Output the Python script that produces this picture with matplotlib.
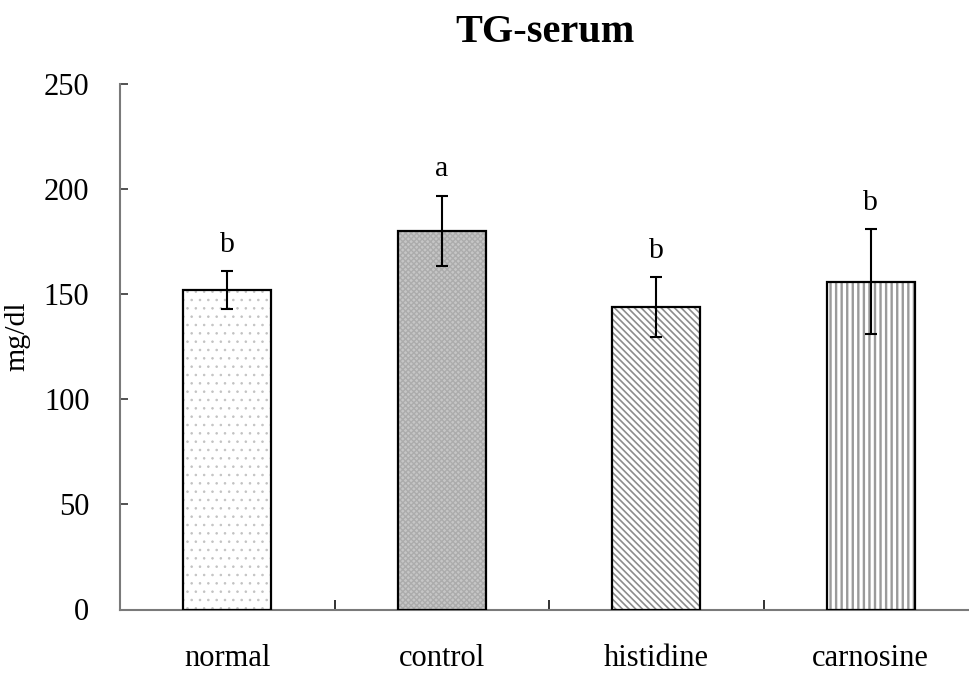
import matplotlib
matplotlib.use("Agg")
import matplotlib.pyplot as plt
import numpy as np

# TG-serum values per diet group
groups = ["normal", "control", "histidine", "carnosine"]
means = [151.8, 180.0, 143.9, 156.0]
errors = [9.0, 16.8, 14.3, 25.0]
letters = ["b", "a", "b", "b"]

# bar fill styles: (face, hatch, hatch colour, hatch width)
fills = [
    ("white", "..", "#c2c2c2", 0.6),
    ("#c6c6c6", "xxxxxx", "#acacac", 1.0),
    ("white", "\\" * 5, "#8c8c8c", 1.2),
    ("white", "|||", "#9a9a9a", 1.7),
]

plt.rcParams["font.family"] = ["Liberation Serif", "DejaVu Serif"]

fig = plt.figure(figsize=(9.69, 6.73), dpi=100)
ax = fig.add_axes([120 / 969, 63.5 / 673, 858 / 969, 525.5 / 673])

x = np.arange(len(groups))
width = 0.41
for xi, m, (fc, h, hc, hw) in zip(x, means, fills):
    plt.rcParams["hatch.linewidth"] = hw
    ax.bar(xi, m, width, color=fc, edgecolor=hc, linewidth=0, hatch=h, zorder=2)
ax.bar(x, means, width, facecolor="none", edgecolor="black", linewidth=1.6, zorder=3)

ax.errorbar(x, means, yerr=errors, fmt="none", ecolor="black", elinewidth=1.5,
            capsize=4, capthick=1.5, zorder=4)

for xi, m, e, t in zip(x, means, errors, letters):
    ax.annotate(t, (xi, m + e), xytext=(0, 19), textcoords="offset points",
                ha="center", va="center", fontsize=21.5)

ax.set_xlim(-0.5, len(groups) - 0.5)
ax.set_ylim(0, 250)
ax.set_yticks(np.arange(0, 251, 50))
ax.set_xticks(x)
ax.set_xticklabels(groups)
ax.set_xticks(x[:-1] + 0.5, minor=True)

for side in ("top", "right"):
    ax.spines[side].set_visible(False)
for side in ("left", "bottom"):
    ax.spines[side].set_color("#7a7a7a")
    ax.spines[side].set_linewidth(1.5)

ax.tick_params(axis="y", direction="in", length=6, width=1.2, color="#333333",
               labelsize=22, pad=22)
ax.tick_params(axis="x", which="major", length=0, labelsize=22, pad=25)
ax.tick_params(axis="x", which="minor", direction="in", length=7, width=1.3,
               color="#222222")

ax.set_ylabel("mg/dl", fontsize=21.5, labelpad=0)
ax.yaxis.set_label_coords(-0.105, 0.52)
fig.text(545 / 969, 1 - 33 / 673, "TG-serum", ha="center", va="center",
         fontsize=29, fontweight="bold")

fig.savefig("out.png", dpi=100)
